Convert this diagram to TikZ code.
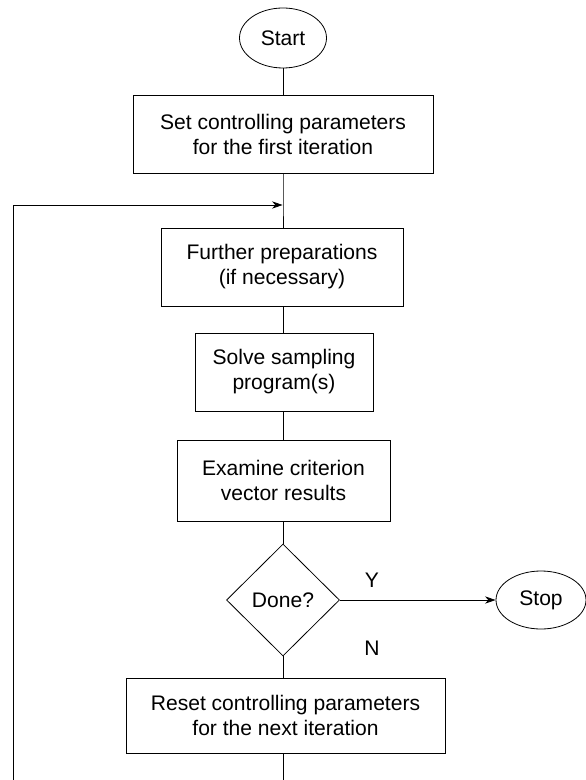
\documentclass[tikz,border=0pt]{standalone}
\usepackage{fontspec}
\setmainfont{Liberation Sans}
\usetikzlibrary{arrows.meta,shapes.geometric}

\tikzset{every picture/.style={line width=0.6pt}}
\tikzset{
  procbox/.style={draw, rectangle, align=center, inner sep=0pt},
  termbox/.style={draw, ellipse, inner sep=0pt},
  decbox/.style={draw, diamond, inner sep=0pt},
  flowarrow/.style={-{Stealth[length=8pt,width=5.5pt]}}
}

\begin{document}
\begin{tikzpicture}[x=0.75pt,y=0.75pt,yscale=-1,xscale=1,
  every node/.style={font=\fontsize{15.8}{18.75}\selectfont}]
	\useasboundingbox (0,0) rectangle (585,780);

	%Shape: Ellipse [id:start]
	\node [termbox, minimum width=65.25pt, minimum height=45pt] (start) at (283,38) {Start};
	%Shape: Rectangle [id:setfirst]
	\node [procbox, minimum width=225pt, minimum height=58.5pt] (setfirst) at (283,134) {Set controlling parameters\\for the first iteration};
	%Shape: Rectangle [id:further]
	\node [procbox, minimum width=181.5pt, minimum height=58.5pt] (further) at (282,267) {Further preparations\\(if necessary)};
	%Shape: Rectangle [id:solve]
	\node [procbox, minimum width=133.5pt, minimum height=58.5pt] (solve) at (284,372) {Solve sampling\\program(s)};
	%Shape: Rectangle [id:examine]
	\node [procbox, minimum width=159.75pt, minimum height=60.75pt] (examine) at (283.5,480.5) {Examine criterion\\vector results};
	%Shape: Diamond [id:done]
	\node [decbox, minimum width=84.75pt, minimum height=84pt] (done) at (283,600) {Done?};
	%Shape: Ellipse [id:stop]
	\node [termbox, minimum width=67.5pt, minimum height=43.5pt] (stop) at (541,600) {Stop};
	%Shape: Rectangle [id:reset]
	\node [procbox, minimum width=239.25pt, minimum height=56.25pt] (reset) at (285.5,715.5) {Reset controlling parameters\\for the next iteration};

	%Coordinates for the loop
	\coordinate (join) at (283,205);
	\coordinate (loopdown) at (283,780);
	\coordinate (loopup) at (13,780);

	%Straight Lines
	\draw (start) -- (start |- setfirst.north);
	\draw (start |- setfirst.south) -- (join) -- (join |- further.north);
	\draw (join |- further.south) -- (join |- solve.north);
	\draw (join |- solve.south) -- (join |- examine.north);
	\draw (join |- examine.south) -- (done);
	\draw (done) -- (done |- reset.north);
	\draw [flowarrow] (done) -- (stop);
	\draw (done |- reset.south) -- (loopdown);
	\draw [flowarrow] (loopup) |- ([xshift=-0.3pt]join);

	% Text Node
	\draw (372,580) node (yes) {Y};
	% Text Node
	\draw (372,648) node (no) {N};

\end{tikzpicture}
\end{document}
